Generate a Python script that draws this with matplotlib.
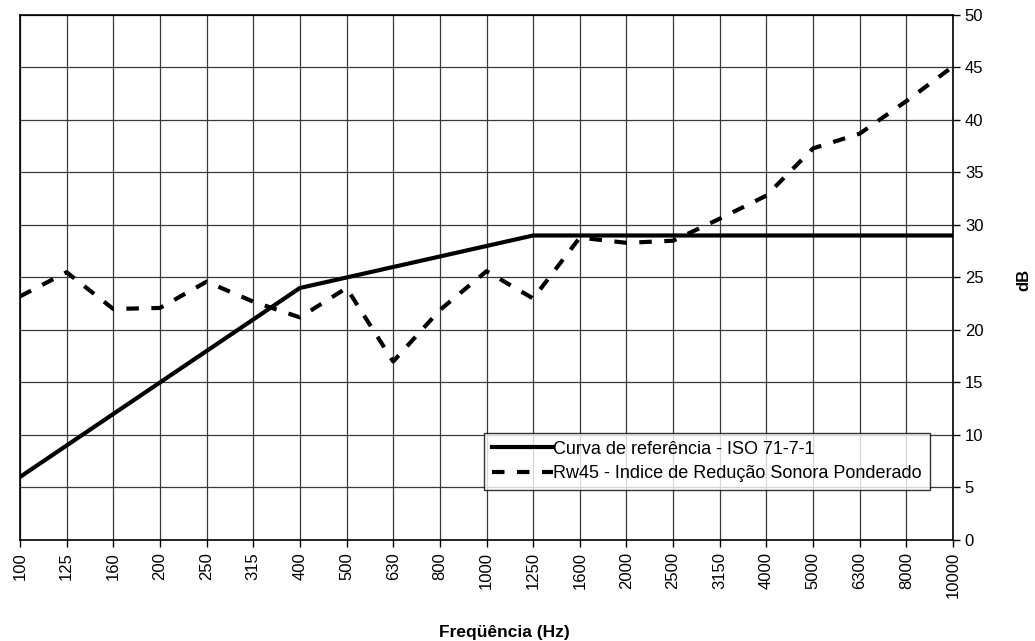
import matplotlib
matplotlib.use("Agg")
import matplotlib.pyplot as plt

plt.rcParams['font.family'] = ['Liberation Sans', 'DejaVu Sans']

freqs = ["100", "125", "160", "200", "250", "315", "400", "500", "630", "800",
         "1000", "1250", "1600", "2000", "2500", "3150", "4000", "5000", "6300",
         "8000", "10000"]
ref_curve = [6, 9, 12, 15, 18, 21, 24, 25, 26, 27, 28, 29, 29, 29, 29, 29, 29,
             29, 29, 29, 29]
rw45 = [23.2, 25.5, 22.0, 22.1, 24.6, 22.7, 21.2, 24.0, 17.0, 21.9, 25.6, 23.0,
        28.8, 28.3, 28.5, 30.6, 32.8, 37.3, 38.7, 41.8, 45.1]

fig = plt.figure(figsize=(10.35, 6.41), dpi=100)
ax = fig.add_axes([0.0193, 0.1576, 0.9015, 0.819])
x = list(range(len(freqs)))

ax.plot(x, ref_curve, color='black', lw=3, solid_joinstyle='miter',
        label='Curva de referência - ISO 71-7-1', zorder=3)
ax.plot(x, rw45, color='black', lw=3, dashes=(3, 3),
        label='Rw45 - Indice de Redução Sonora Ponderado', zorder=3)

ax.set_xlim(0, len(freqs) - 1)
ax.set_ylim(0, 50)
ax.set_xticks(x)
ax.set_xticklabels(freqs, rotation=90, fontsize=12)
ax.set_yticks(range(0, 51, 5))
ax.yaxis.tick_right()
ax.tick_params(axis='y', labelsize=12, direction='out', length=5, width=1)
ax.tick_params(axis='x', direction='out', length=5, width=1)
ax.grid(True, color='#3a3a3a', lw=0.9)
for s in ax.spines.values():
    s.set_linewidth(1.2)
    s.set_color('black')

fig.text(1024 / 1035, 1 - 280 / 641, 'dB', rotation=90, ha='center',
         va='center', fontsize=12, fontweight='bold')
fig.text(0.487, 1 - 632 / 641, 'Freqüência (Hz)', ha='center', va='center',
         fontsize=12.5, fontweight='bold')

leg = ax.legend(loc='lower right', bbox_to_anchor=(0.9754, 0.095), fontsize=13,
                frameon=True, fancybox=False, edgecolor='black',
                handlelength=3.4, handletextpad=0.0, borderpad=0.45,
                labelspacing=0.4, borderaxespad=0)
leg.get_frame().set_linewidth(1.0)

fig.savefig('out.png', dpi=100)
